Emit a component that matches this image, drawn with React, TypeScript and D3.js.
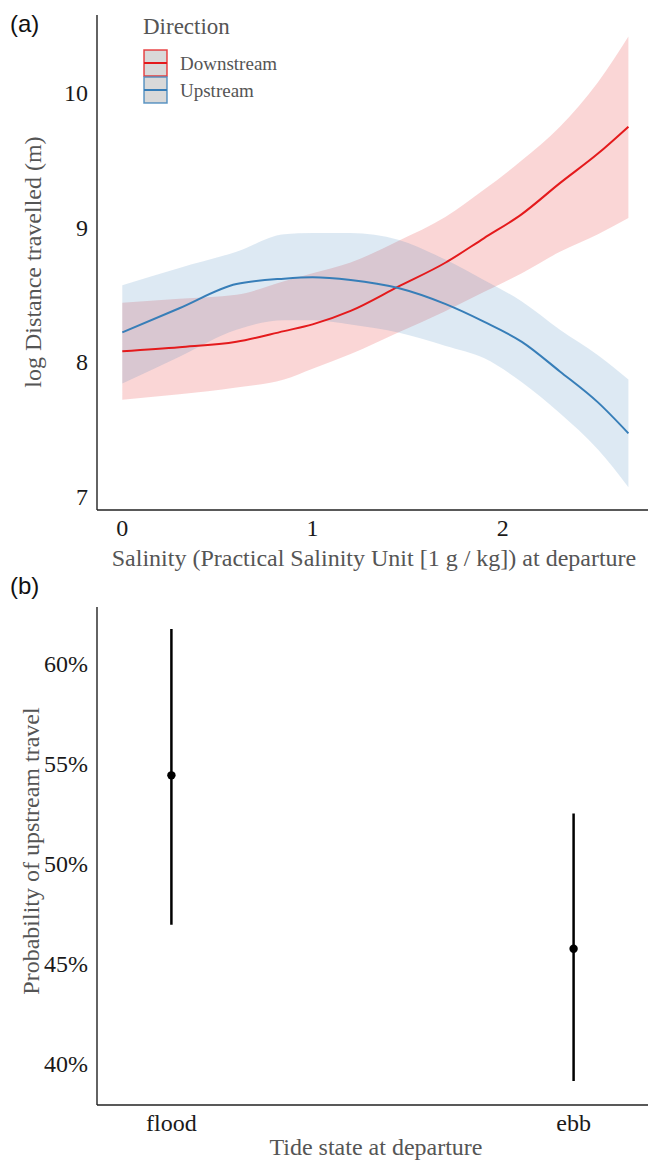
import React from "react";
import * as d3 from "d3";

// ---- Panel (a) data ----
const salinity = [0, 0.3, 0.6, 0.85, 1.0, 1.2, 1.45, 1.7, 1.9, 2.1, 2.3, 2.5, 2.66];
const downFit = [8.08, 8.11, 8.15, 8.23, 8.28, 8.38, 8.56, 8.74, 8.92, 9.1, 9.33, 9.55, 9.75];
const downLo = [7.72, 7.76, 7.81, 7.87, 7.95, 8.06, 8.22, 8.38, 8.52, 8.66, 8.82, 8.95, 9.07];
const downHi = [8.44, 8.47, 8.5, 8.6, 8.66, 8.74, 8.9, 9.08, 9.28, 9.5, 9.75, 10.08, 10.42];
const upFit = [8.22, 8.4, 8.58, 8.62, 8.63, 8.61, 8.55, 8.43, 8.3, 8.15, 7.93, 7.7, 7.47];
const upLo = [7.84, 8.04, 8.24, 8.31, 8.31, 8.28, 8.22, 8.12, 8.03, 7.85, 7.62, 7.35, 7.07];
const upHi = [8.57, 8.7, 8.82, 8.95, 8.96, 8.96, 8.91, 8.76, 8.61, 8.45, 8.24, 8.05, 7.87];
const aYTicks = [7, 8, 9, 10];
const aXTicks = [0, 1, 2];
const directions = ["Downstream", "Upstream"];

// ---- Panel (b) data ----
const tideStates = ["flood", "ebb"];
const probEst = [0.544, 0.4575];
const probLo = [0.4695, 0.3915];
const probHi = [0.617, 0.525];
const bYTicks = [0.4, 0.45, 0.5, 0.55, 0.6];

const RED = "#e41a1c";
const BLUE = "#377eb8";
const SERIF = "'Liberation Serif', 'Times New Roman', serif";
const SANS = "'Liberation Sans', Arial, sans-serif";
const TICK_COL = "#1a1a1a";
const TITLE_COL = "#555555";
const TICK_FS = 24;
const TITLE_FS = 24;

export default function App() {
  // Panel a geometry
  const aLeft = 97, aRight = 648, aTop = 15, aBottom = 510;
  const xA = d3.scaleLinear().domain([-0.133, 2.763]).range([aLeft, aRight]);
  const yA = d3.scaleLinear().domain([6.9, 10.58]).range([aBottom, aTop]);

  const idx = salinity.map((_, i) => i);
  const area = (lo: number[], hi: number[]) =>
    d3
      .area<number>()
      .x((i) => xA(salinity[i]))
      .y0((i) => yA(lo[i]))
      .y1((i) => yA(hi[i]))
      .curve(d3.curveMonotoneX)(idx) || "";
  const line = (v: number[]) =>
    d3
      .line<number>()
      .x((i) => xA(salinity[i]))
      .y((i) => yA(v[i]))
      .curve(d3.curveMonotoneX)(idx) || "";

  // Panel b geometry
  const bLeft = 97, bRight = 648, bTop = 607, bBottom = 1105;
  const xB = d3.scalePoint<string>().domain(tideStates).range([bLeft, bRight]).padding(0.185);
  const yB = d3.scaleLinear().domain([0.3795, 0.628]).range([bBottom, bTop]);
  const pct = d3.format(".0%");

  const legendColors = [RED, BLUE];

  return (
    <svg
      width={648}
      height={1160}
      style={{ position: "absolute", left: 0, top: 0, background: "#fff" }}
    >
      <rect x={0} y={0} width={648} height={1160} fill="#fff" />
      {/* ---------- Panel (a) ---------- */}
      <text x={10} y={32} fontFamily={SANS} fontSize={24} fill="#111">(a)</text>
      <g>
        <path d={area(downLo, downHi)} fill={RED} fillOpacity={0.18} />
        <path d={area(upLo, upHi)} fill={BLUE} fillOpacity={0.17} />
        <path d={line(downFit)} fill="none" stroke={RED} strokeWidth={2} />
        <path d={line(upFit)} fill="none" stroke={BLUE} strokeWidth={2} />
      </g>
      <line x1={aLeft} x2={aLeft} y1={aTop} y2={aBottom} stroke="#222" strokeWidth={1.4} />
      <line x1={aLeft} x2={aRight} y1={aBottom} y2={aBottom} stroke="#222" strokeWidth={1.4} />
      {aYTicks.map((t) => (
        <text key={t} x={88} y={yA(t)} dy="0.35em" textAnchor="end" fontFamily={SERIF} fontSize={TICK_FS} fill={TICK_COL}>
          {t}
        </text>
      ))}
      {aXTicks.map((t) => (
        <text key={t} x={xA(t)} y={528} dy="0.35em" textAnchor="middle" fontFamily={SERIF} fontSize={TICK_FS} fill={TICK_COL}>
          {t}
        </text>
      ))}
      <text x={374} y={558} dy="0.35em" textAnchor="middle" fontFamily={SERIF} fontSize={TITLE_FS} fill={TITLE_COL}>
        Salinity (Practical Salinity Unit [1 g / kg]) at departure
      </text>
      <text
        transform={`translate(33,262) rotate(-90)`}
        dy="0.35em"
        textAnchor="middle"
        fontFamily={SERIF}
        fontSize={TITLE_FS}
        fill={TITLE_COL}
      >
        log Distance travelled (m)
      </text>
      {/* Legend */}
      <text x={143} y={26} dy="0.35em" fontFamily={SERIF} fontSize={23} fill={TITLE_COL}>Direction</text>
      {directions.map((d, i) => (
        <g key={d} transform={`translate(144,${50 + i * 27})`}>
          <rect x={0} y={0} width={23} height={26} fill="#d9d9d9" stroke={legendColors[i]} strokeWidth={1.5} strokeOpacity={0.8} />
          <line x1={0} x2={23} y1={13} y2={13} stroke={legendColors[i]} strokeWidth={2} />
          <text x={36} y={13} dy="0.35em" fontFamily={SERIF} fontSize={19} fill={TITLE_COL}>{d}</text>
        </g>
      ))}

      {/* ---------- Panel (b) ---------- */}
      <text x={10} y={594} fontFamily={SANS} fontSize={24} fill="#111">(b)</text>
      {tideStates.map((s, i) => (
        <g key={s}>
          <line x1={xB(s)} x2={xB(s)} y1={yB(probLo[i])} y2={yB(probHi[i])} stroke="#000" strokeWidth={2.5} />
          <circle cx={xB(s)} cy={yB(probEst[i])} r={4.2} fill="#000" />
        </g>
      ))}
      <line x1={bLeft} x2={bLeft} y1={bTop} y2={bBottom} stroke="#222" strokeWidth={1.4} />
      <line x1={bLeft} x2={bRight} y1={bBottom} y2={bBottom} stroke="#222" strokeWidth={1.4} />
      {bYTicks.map((t) => (
        <text key={t} x={88} y={yB(t)} dy="0.35em" textAnchor="end" fontFamily={SERIF} fontSize={TICK_FS} fill={TICK_COL}>
          {pct(t)}
        </text>
      ))}
      {tideStates.map((s) => (
        <text key={s} x={xB(s)} y={1123} dy="0.35em" textAnchor="middle" fontFamily={SERIF} fontSize={TICK_FS} fill={TICK_COL}>
          {s}
        </text>
      ))}
      <text x={376} y={1147} dy="0.35em" textAnchor="middle" fontFamily={SERIF} fontSize={TITLE_FS} fill={TITLE_COL}>
        Tide state at departure
      </text>
      <text
        transform={`translate(31,851) rotate(-90)`}
        dy="0.35em"
        textAnchor="middle"
        fontFamily={SERIF}
        fontSize={TITLE_FS}
        fill={TITLE_COL}
      >
        Probability of upstream travel
      </text>
    </svg>
  );
}
